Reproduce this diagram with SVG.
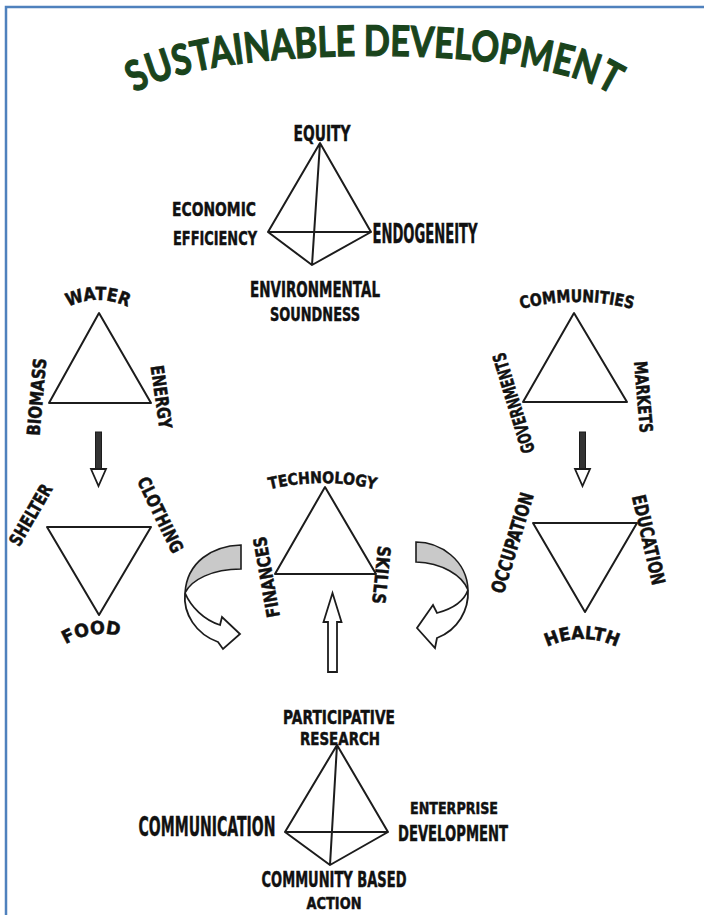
<svg xmlns="http://www.w3.org/2000/svg" width="704" height="915" viewBox="0 0 704 915">
<style>
.ln{fill:none;stroke:#1c1c1c;stroke-width:2;stroke-linejoin:round}
.lb{font-family:"DejaVu Sans","Liberation Sans",sans-serif;font-weight:bold;fill:#111;stroke:#111;stroke-width:0.5;text-anchor:middle}
.title{font-family:Lato,"Open Sans",sans-serif;font-weight:bold;fill:#1a441c;stroke:#1a441c;stroke-width:1.2;font-size:42px}
.arw{fill:#fff;stroke:#1c1c1c;stroke-width:1.8;stroke-linejoin:miter}
.band{fill:#c9c9c9;stroke:#1c1c1c;stroke-width:1.6}
</style>
<defs>
<path id="titleArc" d="M131,96 C201,42 550,42 616,98"/>
<path id="arcWater" d="M62,310 Q98,290 134,310"/>
<path id="arcComm" d="M514,311 Q577,293 640,311"/>
<path id="arcTech" d="M263,491 Q322,475 382,491"/>
<path id="arcHealth" d="M541,650 Q582,628 623,650"/>
<path id="arcFood" d="M60,648 Q92,626 126,638"/>
</defs>
<rect width="704" height="915" fill="#fff"/>
<path d="M6,915 V7 H704" fill="none" stroke="#4f81bd" stroke-width="2.5"/>

<g id="title">
<text class="title"><textPath href="#titleArc" startOffset="5" textLength="488" lengthAdjust="spacingAndGlyphs">SUSTAINABLE DEVELOPMENT</textPath></text>
</g>

<g id="pyramid-top">
<path class="ln" d="M320,143 L268,232 L371,232 Z M268,232 L312,265 L371,232 M320,143 L312,265"/>
<text class="lb" x="322" y="141" font-size="22" textLength="57" lengthAdjust="spacingAndGlyphs">EQUITY</text>
<text class="lb" x="214" y="216" font-size="20" textLength="84" lengthAdjust="spacingAndGlyphs">ECONOMIC</text>
<text class="lb" x="215" y="245" font-size="20" textLength="84" lengthAdjust="spacingAndGlyphs">EFFICIENCY</text>
<text class="lb" x="425" y="243" font-size="27" textLength="105" lengthAdjust="spacingAndGlyphs">ENDOGENEITY</text>
<text class="lb" x="315" y="297" font-size="21" textLength="130" lengthAdjust="spacingAndGlyphs">ENVIRONMENTAL</text>
<text class="lb" x="315" y="321" font-size="19" textLength="90" lengthAdjust="spacingAndGlyphs">SOUNDNESS</text>
</g>

<g id="triangle-resources">
<path class="ln" d="M99,313 L49,403 L151,403 Z"/>
<text class="lb" font-size="18"><textPath href="#arcWater" startOffset="50%" textLength="62" lengthAdjust="spacingAndGlyphs">WATER</textPath></text>
<text class="lb" font-size="18" transform="translate(37,397) rotate(-85)" y="6" textLength="78" lengthAdjust="spacingAndGlyphs">BIOMASS</text>
<text class="lb" font-size="18" transform="translate(161,397) rotate(82)" y="6" textLength="64" lengthAdjust="spacingAndGlyphs">ENERGY</text>
</g>

<g id="triangle-needs">
<path class="ln" d="M47,527 L151,527 L99,615 Z"/>
<text class="lb" font-size="18" transform="translate(31,515) rotate(-60)" y="6" textLength="68" lengthAdjust="spacingAndGlyphs">SHELTER</text>
<text class="lb" font-size="18" transform="translate(160,515) rotate(64)" y="6" textLength="82" lengthAdjust="spacingAndGlyphs">CLOTHING</text>
<text class="lb" font-size="18"><textPath href="#arcFood" startOffset="50%" textLength="56" lengthAdjust="spacingAndGlyphs">FOOD</textPath></text>
</g>

<g id="triangle-institutions">
<path class="ln" d="M574,313 L523,402 L627,402 Z"/>
<text class="lb" font-size="17"><textPath href="#arcComm" startOffset="50%" textLength="113" lengthAdjust="spacingAndGlyphs">COMMUNITIES</textPath></text>
<text class="lb" font-size="18" transform="translate(514,403) rotate(-107)" y="6" textLength="104" lengthAdjust="spacingAndGlyphs">GOVERNMENTS</text>
<text class="lb" font-size="18" transform="translate(643,397) rotate(85)" y="6" textLength="72" lengthAdjust="spacingAndGlyphs">MARKETS</text>
</g>

<g id="triangle-wellbeing">
<path class="ln" d="M533,523 L637,523 L585,612 Z"/>
<text class="lb" font-size="19" transform="translate(513,543) rotate(-73)" y="6" textLength="104" lengthAdjust="spacingAndGlyphs">OCCUPATION</text>
<text class="lb" font-size="19" transform="translate(648,540) rotate(77)" y="6" textLength="92" lengthAdjust="spacingAndGlyphs">EDUCATION</text>
<text class="lb" font-size="18"><textPath href="#arcHealth" startOffset="50%" textLength="72" lengthAdjust="spacingAndGlyphs">HEALTH</textPath></text>
</g>

<g id="triangle-capacity">
<path class="ln" d="M325,487 L275,574 L376,574 Z"/>
<text class="lb" font-size="16"><textPath href="#arcTech" startOffset="50%" textLength="107" lengthAdjust="spacingAndGlyphs">TECHNOLOGY</textPath></text>
<text class="lb" font-size="18" transform="translate(267,577) rotate(-100)" y="6" textLength="82" lengthAdjust="spacingAndGlyphs">FINANCES</text>
<text class="lb" font-size="18" transform="translate(381,575) rotate(96)" y="6" textLength="58" lengthAdjust="spacingAndGlyphs">SKILLS</text>
</g>

<g id="pyramid-bottom">
<path class="ln" d="M337,745 L285,832 L388,832 Z M285,832 L330,865 L388,832 M337,745 L330,865"/>
<text class="lb" x="339" y="724" font-size="19" textLength="112" lengthAdjust="spacingAndGlyphs">PARTICIPATIVE</text>
<text class="lb" x="340" y="745" font-size="17" textLength="80" lengthAdjust="spacingAndGlyphs">RESEARCH</text>
<text class="lb" x="207" y="836" font-size="27" textLength="137" lengthAdjust="spacingAndGlyphs">COMMUNICATION</text>
<text class="lb" x="454" y="814" font-size="16" textLength="88" lengthAdjust="spacingAndGlyphs">ENTERPRISE</text>
<text class="lb" x="453" y="841" font-size="21" textLength="110" lengthAdjust="spacingAndGlyphs">DEVELOPMENT</text>
<text class="lb" x="334" y="887" font-size="21" textLength="145" lengthAdjust="spacingAndGlyphs">COMMUNITY BASED</text>
<text class="lb" x="334" y="909" font-size="16" textLength="55" lengthAdjust="spacingAndGlyphs">ACTION</text>
</g>

<g id="connectors">
<rect x="95.5" y="432" width="6" height="38" fill="#333" stroke="#1c1c1c" stroke-width="1"/>
<path class="arw" d="M91,469 L106,469 L98.5,486 Z"/>
<rect x="579.5" y="432" width="6" height="38" fill="#333" stroke="#1c1c1c" stroke-width="1"/>
<path class="arw" d="M575,469 L590,469 L582.5,486 Z"/>
<path class="arw" d="M328,672 L328,622 L323.5,622 L332.5,593 L341.5,622 L337,622 L337,672 Z"/>
<path class="band" d="M241,545 C212,546 187,562 185,593 C191,580 212,569 241,569 Z"/>
<path class="arw" d="M185,593 C183,614 196,634 218,642 L223,649 L240,634 L222,617 L220,625 C204,620 191,607 185,593 Z"/>
<path class="band" d="M416,542 C440,542 467,560 468,590 C462,575 442,563 416,562 Z"/>
<path class="arw" d="M468,590 C469,610 458,630 437,638 L435,648 L417,628 L433,605 L437,613 C452,609 464,601 468,590 Z"/>
</g>
</svg>
